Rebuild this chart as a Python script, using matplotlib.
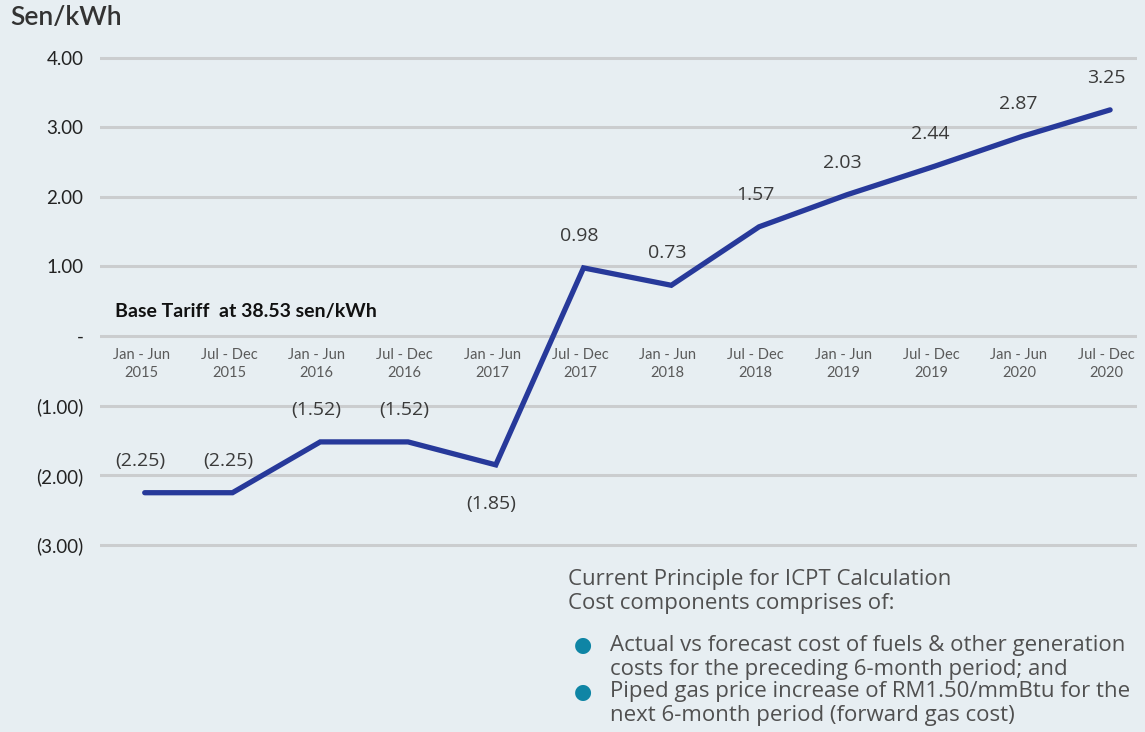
import matplotlib.pyplot as plt

# ICPT surcharge / rebate by half-year period (sen/kWh)
periods = ["Jan - Jun\n2015", "Jul - Dec\n2015", "Jan - Jun\n2016", "Jul - Dec\n2016",
           "Jan - Jun\n2017", "Jul - Dec\n2017", "Jan - Jun\n2018", "Jul - Dec\n2018",
           "Jan - Jun\n2019", "Jul - Dec\n2019", "Jan - Jun\n2020", "Jul - Dec\n2020"]
icpt = [-2.25, -2.25, -1.52, -1.52, -1.85, 0.98, 0.73, 1.57, 2.03, 2.44, 2.87, 3.25]
point_labels = ["(2.25)", "(2.25)", "(1.52)", "(1.52)", "(1.85)", "0.98", "0.73",
                "1.57", "2.03", "2.44", "2.87", "3.25"]
yticks = [4, 3, 2, 1, 0, -1, -2, -3]
ytick_labels = ["4.00", "3.00", "2.00", "1.00", "-", "(1.00)", "(2.00)", "(3.00)"]
notes_head = ["Current Principle for ICPT Calculation", "Cost components comprises of:"]
bullets = [["Actual vs forecast cost of fuels & other generation",
            "costs for the preceding 6-month period; and"],
           ["Piped gas price increase of RM1.50/mmBtu for the",
            "next 6-month period (forward gas cost)"]]

bg = "#e7eef2"
line_col = "#27399a"
txt = "#3a3a3a"

fig = plt.figure(figsize=(11.45, 7.32), dpi=100, facecolor=bg)
ax = fig.add_axes([0.0873, 0.228, 0.906, 0.717], facecolor=bg)

x = list(range(len(icpt)))
ax.plot(x, icpt, color=line_col, lw=3.8, solid_capstyle="round", solid_joinstyle="miter", zorder=3)

for xi, v, lab in zip(x, icpt, point_labels):
    dy = -28 if lab == "(1.85)" else 23
    ax.annotate(lab, (xi, v), xytext=(-3, dy), textcoords="offset points",
                ha="center", va="center", fontsize=14, color=txt, family="Open Sans")

# category labels sit just under the zero line
for xi, lab in zip(x, periods):
    ax.text(xi - 0.04, -0.17, lab, ha="center", va="top", fontsize=10.5,
            color="#5a5a5a", family="Lato", linespacing=1.4)

ax.set_xlim(-0.51, 11.31)
ax.set_ylim(-3.29, 4.25)
ax.set_yticks(yticks)
ax.set_yticklabels(ytick_labels, fontsize=13.5, color="#222222", family="Lato")
ax.set_xticks([])
ax.tick_params(axis="y", length=0, pad=12)
ax.grid(axis="y", color="#cbcdcf", lw=2.2)
ax.set_axisbelow(True)
for s in ax.spines.values():
    s.set_visible(False)

ax.text(-0.34, 0.35, "Base Tariff  at 38.53 sen/kWh", fontsize=14, fontweight="bold",
        color="#111111", family="Lato", va="center")

fig.text(10 / 1145, 1 - 18 / 732, "Sen/kWh", fontsize=19, color="#333333",
         family="Lato", fontweight="semibold", va="center")

note_col = "#505050"
for i, line in enumerate(notes_head):
    fig.text(568 / 1145, 1 - (580 + 24 * i) / 732, line, fontsize=16, color=note_col,
             family="Open Sans", va="center")
for i, b in enumerate(bullets):
    y0 = 645 + 47 * i
    fig.text(583 / 1145, 1 - y0 / 732, "\u25cf", fontsize=15, color="#0f85a5",
             ha="center", va="center")
    for j, line in enumerate(b):
        fig.text(610 / 1145, 1 - (y0 + 24 * j) / 732, line, fontsize=16, color=note_col,
                 family="Open Sans", va="center")

fig.savefig("out.png", dpi=100, facecolor=bg)
